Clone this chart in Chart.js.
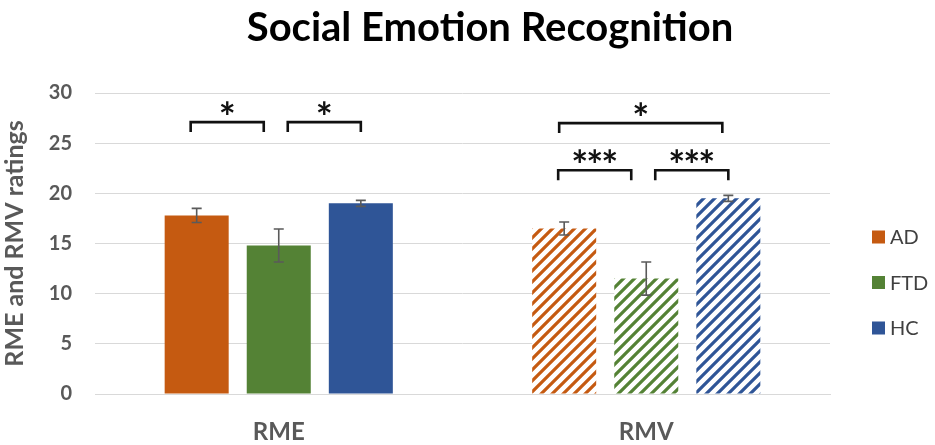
<!DOCTYPE html>
<html>
<head>
<meta charset="utf-8">
<script src="https://cdn.jsdelivr.net/npm/chart.js@4.4.1/dist/chart.umd.min.js"></script>
<style>
  html, body { margin: 0; padding: 0; background: #fff; }
  #wrap { width: 935px; height: 445px; }
</style>
</head>
<body>
<div id="wrap"><canvas id="chart"></canvas></div>
<script>
var categories = ['RME', 'RMV'];
var groups = ['AD', 'FTD', 'HC'];
var adValues = [17.8, 16.5];
var ftdValues = [14.8, 11.5];
var hcValues = [19.0, 19.5];
var adErrors = [0.7, 0.65];
var ftdErrors = [1.65, 1.65];
var hcErrors = [0.3, 0.3];
var yTicks = [0, 5, 10, 15, 20, 25, 30];

// significance brackets: category index, from group, to group, level, label
var sigCategory = [0, 0, 1, 1, 1];
var sigFrom = [0, 1, 0, 0, 1];
var sigTo = [1, 2, 2, 1, 2];
var sigLevel = [27.1, 27.1, 27.0, 22.3, 22.3];
var sigLabel = ['*', '*', '*', '***', '***'];

var colors = ['#C55A11', '#548235', '#2F5597'];
var textGray = '#595959';

function hatch(color) {
    var size = 11;
    var c = document.createElement('canvas');
    c.width = size;
    c.height = size;
    var g = c.getContext('2d');
    g.fillStyle = '#fff';
    g.fillRect(0, 0, size, size);
    g.strokeStyle = color;
    g.lineWidth = 3.2;
    g.beginPath();
    g.moveTo(-2, size + 2); g.lineTo(size + 2, -2);
    g.moveTo(-2, 2); g.lineTo(2, -2);
    g.moveTo(size - 2, size + 2); g.lineTo(size + 2, size - 2);
    g.stroke();
    return document.getElementById('chart').getContext('2d').createPattern(c, 'repeat');
}

var values = [adValues, ftdValues, hcValues];
var errors = [adErrors, ftdErrors, hcErrors];

var datasets = groups.map(function (name, i) {
    return {
        label: name,
        data: values[i],
        errors: errors[i],
        backgroundColor: [colors[i], hatch(colors[i])],
        borderWidth: 0,
        categoryPercentage: 0.67,
        barPercentage: 0.78
    };
});

var extrasPlugin = {
    id: 'extras',
    afterDatasetsDraw: function (chart) {
        var ctx = chart.ctx;
        var y = chart.scales.y;

        // error bars
        ctx.save();
        ctx.strokeStyle = '#5a5a5a';
        ctx.lineWidth = 1.6;
        chart.data.datasets.forEach(function (ds, i) {
            chart.getDatasetMeta(i).data.forEach(function (bar, j) {
                var top = y.getPixelForValue(ds.data[j] + ds.errors[j]);
                var bot = y.getPixelForValue(ds.data[j] - ds.errors[j]);
                ctx.beginPath();
                ctx.moveTo(bar.x, top); ctx.lineTo(bar.x, bot);
                ctx.moveTo(bar.x - 5, top); ctx.lineTo(bar.x + 5, top);
                ctx.moveTo(bar.x - 5, bot); ctx.lineTo(bar.x + 5, bot);
                ctx.stroke();
            });
        });
        ctx.restore();

        // significance brackets
        ctx.save();
        ctx.strokeStyle = '#111';
        ctx.fillStyle = '#111';
        ctx.lineWidth = 2.6;
        ctx.font = 'bold 40px Lato';
        ctx.textAlign = 'center';
        ctx.textBaseline = 'alphabetic';
        sigLabel.forEach(function (label, k) {
            var a = chart.getDatasetMeta(sigFrom[k]).data[sigCategory[k]];
            var b = chart.getDatasetMeta(sigTo[k]).data[sigCategory[k]];
            var x1, x2;
            if (sigTo[k] - sigFrom[k] === 2) { x1 = a.x - 5; x2 = b.x - 6; }
            else if (sigFrom[k] === 0) { x1 = a.x - 6; x2 = b.x - 15; }
            else { x1 = a.x + 9; x2 = b.x; }
            var ly = y.getPixelForValue(sigLevel[k]);
            ctx.beginPath();
            ctx.moveTo(x1, ly + 10);
            ctx.lineTo(x1, ly);
            ctx.lineTo(x2, ly);
            ctx.lineTo(x2, ly + 10);
            ctx.stroke();
            var mid = (x1 + x2) / 2;
            var n = label.length;
            for (var s = 0; s < n; s++) {
                ctx.fillText('*', mid + (s - (n - 1) / 2) * 15, ly + 10);
            }
        });
        ctx.restore();
    },
    afterDraw: function (chart) {
        var ctx = chart.ctx;
        var area = chart.chartArea;
        ctx.save();
        // title
        ctx.fillStyle = '#000';
        ctx.font = 'bold 40px Lato';
        ctx.textAlign = 'center';
        ctx.textBaseline = 'middle';
        ctx.fillText('Social Emotion Recognition', 490, 28);

        // legend
        ctx.font = '20px Lato';
        ctx.textAlign = 'left';
        chart.data.datasets.forEach(function (ds, i) {
            var cy = area.top + 144 + i * 45.5;
            ctx.fillStyle = colors[i];
            ctx.fillRect(area.right + 42, cy - 6.5, 13, 13);
            ctx.fillStyle = '#404040';
            ctx.fillText(ds.label, area.right + 60, cy + 1);
        });
        ctx.restore();
    }
};

new Chart(document.getElementById('chart'), {
    type: 'bar',
    data: { labels: categories, datasets: datasets },
    options: {
        responsive: true,
        maintainAspectRatio: false,
        animation: false,
        layout: { padding: { top: 93, right: 105, bottom: 0, left: 0 } },
        plugins: {
            legend: { display: false },
            title: { display: false },
            tooltip: { enabled: false }
        },
        scales: {
            x: {
                grid: { display: false, drawTicks: false },
                border: { color: '#d9d9d9', width: 1 },
                ticks: { color: textGray, font: { family: 'Lato', size: 24, weight: 'bold' }, padding: 24 },
                afterFit: function (s) { s.height = 51; }
            },
            y: {
                min: 0,
                max: 30,
                afterBuildTicks: function (s) { s.ticks = yTicks.map(function (v) { return { value: v }; }); },
                grid: { color: '#d9d9d9', lineWidth: 1, drawTicks: false },
                border: { display: false },
                ticks: { color: textGray, font: { family: 'Lato', size: 20, weight: 'bold' }, padding: 23 },
                title: {
                    display: true,
                    text: 'RME and RMV ratings',
                    color: textGray,
                    font: { family: 'Lato', size: 25, weight: 'bold' },
                    padding: { top: 0, bottom: 0 }
                },
                afterFit: function (s) { s.width = 95; }
            }
        }
    },
    plugins: [extrasPlugin]
});
</script>
</body>
</html>
